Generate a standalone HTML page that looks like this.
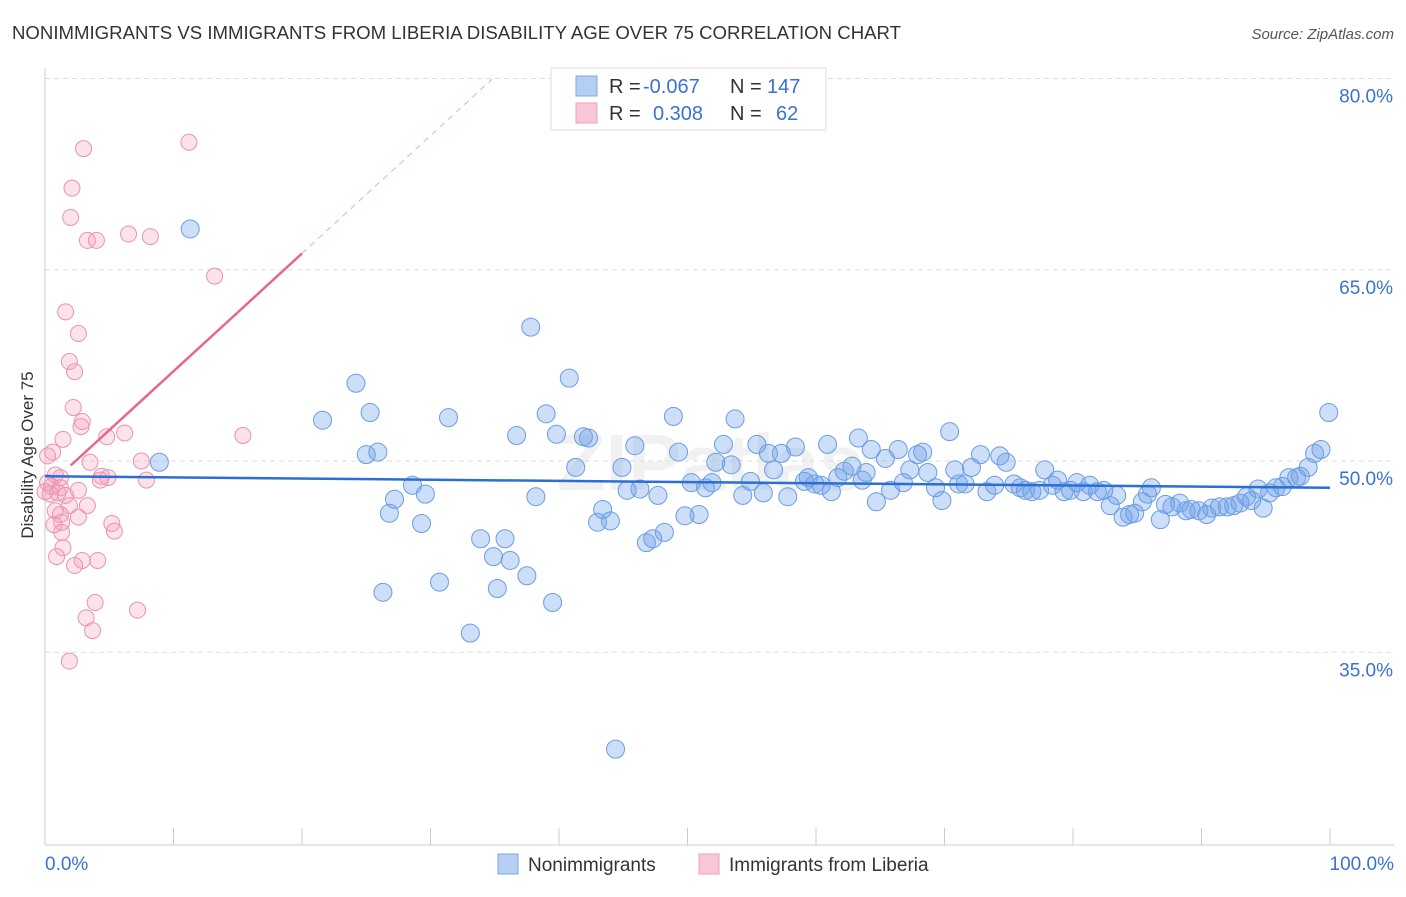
<!DOCTYPE html>
<html><head><meta charset="utf-8"><style>
body{margin:0;background:#fff;font-family:"Liberation Sans",sans-serif}
svg text{font-family:"Liberation Sans",sans-serif}
</style></head><body>
<svg id="chart" width="1406" height="892" xmlns="http://www.w3.org/2000/svg">
<text x="12" y="39" font-size="18" fill="#333" textLength="889" lengthAdjust="spacingAndGlyphs">NONIMMIGRANTS VS IMMIGRANTS FROM LIBERIA DISABILITY AGE OVER 75 CORRELATION CHART</text>
<text x="1394" y="39" font-size="15" fill="#555" font-style="italic" text-anchor="end">Source: ZipAtlas.com</text>
<text x="710" y="490" font-size="80" fill="#000" opacity="0.05" text-anchor="middle" font-weight="bold">ZIPatlas</text>
<text transform="translate(33,455) rotate(-90)" font-size="17" fill="#333" text-anchor="middle">Disability Age Over 75</text>
<g id="grid"></g><g id="pts"></g><g id="trend"></g>
<g>
<rect x="551" y="68" width="275" height="62" fill="#fff" stroke="#ddd"/>
<rect x="576" y="76" width="21" height="20" fill="#b5cff3" stroke="#7fa8e6"/>
<rect x="576" y="103" width="21" height="20" fill="#f9c6d6" stroke="#eea2bb"/>
<text x="609" y="93" font-size="20" fill="#333">R = </text><text x="643" y="93" font-size="20" fill="#3a72d0">-0.067</text>
<text x="730" y="93" font-size="20" fill="#333">N = </text><text x="767" y="93" font-size="20" fill="#3a72d0">147</text>
<text x="609" y="120" font-size="20" fill="#333">R = </text><text x="653" y="120" font-size="20" fill="#3a72d0">0.308</text>
<text x="730" y="120" font-size="20" fill="#333">N = </text><text x="776" y="120" font-size="20" fill="#3a72d0">62</text>
</g>
<g>
<rect x="498" y="854" width="20" height="20" fill="#b5cff3" stroke="#7fa8e6"/>
<text x="528" y="871" font-size="19" fill="#333">Nonimmigrants</text>
<rect x="699" y="854" width="20" height="20" fill="#f9c6d6" stroke="#eea2bb"/>
<text x="729" y="871" font-size="19" fill="#333">Immigrants from Liberia</text>
</g>
</svg>
<script>
const yTicks=[35,50,65,80];
const xTickLabels=["0.0%","100.0%"];
const blueX=[11.3,8.9,21.6,24.2,25.3,25.0,25.9,26.3,26.8,27.2,28.6,29.6,29.3,30.7,31.4,33.1,33.9,34.9,35.2,35.8,36.2,37.5,37.8,36.7,38.2,39.0,39.5,39.8,40.8,41.3,41.9,42.3,43.0,43.4,44.0,44.4,44.9,45.3,45.9,46.3,46.8,47.3,47.7,48.2,48.9,49.3,49.8,50.3,50.9,51.4,51.9,52.2,52.8,53.4,53.7,54.3,54.9,55.4,55.9,56.3,56.7,57.3,57.8,58.4,59.1,59.4,59.9,60.4,60.9,61.2,61.7,62.2,62.8,63.3,63.6,63.9,64.3,64.7,65.4,65.8,66.4,66.8,67.3,67.9,68.3,68.7,69.3,69.8,70.4,70.8,71.1,71.6,72.1,72.8,73.3,73.9,74.3,74.8,75.4,75.9,76.3,76.8,77.4,77.8,78.4,78.8,79.3,79.8,80.3,80.8,81.3,81.9,82.4,82.9,83.4,83.9,84.4,84.8,85.4,85.8,86.1,86.8,87.2,87.7,88.3,88.8,89.2,89.8,90.4,90.8,91.4,92.0,92.5,93.0,93.5,93.9,94.4,94.8,95.3,95.8,96.3,96.8,97.4,97.7,98.3,98.8,99.3,99.9];
const blueY=[68.2,49.9,53.2,56.1,53.8,50.5,50.7,39.7,45.9,47.0,48.1,47.4,45.1,40.5,53.4,36.5,43.9,42.5,40.0,43.9,42.2,41.0,60.5,52.0,47.2,53.7,38.9,52.1,56.5,49.5,51.9,51.8,45.2,46.2,45.3,27.4,49.5,47.7,51.2,47.8,43.6,43.9,47.3,44.4,53.5,50.7,45.7,48.3,45.8,47.9,48.3,49.9,51.3,49.7,53.3,47.3,48.4,51.3,47.5,50.6,49.3,50.6,47.2,51.1,48.4,48.7,48.2,48.1,51.3,47.6,48.7,49.2,49.6,51.8,48.5,49.1,50.9,46.8,50.2,47.7,50.9,48.3,49.3,50.5,50.7,49.1,47.9,46.9,52.3,49.3,48.2,48.2,49.5,50.5,47.6,48.1,50.4,49.9,48.2,47.9,47.7,47.6,47.7,49.3,48.1,48.5,47.6,47.7,48.3,47.6,48.1,47.6,47.7,46.5,47.3,45.6,45.8,45.9,46.8,47.4,47.9,45.4,46.6,46.4,46.7,46.1,46.2,46.1,45.8,46.3,46.4,46.4,46.5,46.7,47.2,46.9,47.8,46.3,47.5,47.9,48.0,48.7,48.7,48.8,49.5,50.6,50.9,53.8];
const pinkX=[3.0,11.2,2.1,2.0,3.3,4.0,6.5,8.2,13.2,1.6,2.6,1.9,2.3,2.2,2.9,2.8,1.4,6.2,4.8,15.4,0.6,0.2,3.5,7.5,0.8,1.2,4.4,4.9,0.2,0.5,1.2,0.0,0.4,1.0,1.6,2.6,4.3,7.9,1.9,3.3,0.8,1.2,2.6,1.3,0.7,5.2,5.4,1.3,1.4,0.9,2.9,4.1,2.3,3.9,7.2,3.2,3.7,1.9];
const pinkY=[74.5,75.0,71.4,69.1,67.3,67.3,67.8,67.6,64.5,61.7,60.0,57.8,57.0,54.2,53.1,52.7,51.7,52.2,51.9,52.0,50.7,50.4,49.9,50.0,48.9,48.7,48.8,48.7,48.3,48.0,47.9,47.6,47.4,47.5,47.3,47.7,48.5,48.5,46.5,46.5,46.1,45.8,45.6,45.2,45.0,45.1,44.5,44.4,43.2,42.5,42.2,42.2,41.8,38.9,38.3,37.7,36.7,34.3];
const blueTrend=[48.8,47.9];
const pinkIntercept=47.8, pinkSlope=0.924;
const NS="http://www.w3.org/2000/svg";
const X=v=>45+v*12.85, Y=v=>461-(v-50)*12.75;
function mk(tag,attrs,parent){const e=document.createElementNS(NS,tag);for(const k in attrs)e.setAttribute(k,attrs[k]);parent.appendChild(e);return e;}
const grid=document.getElementById('grid');
yTicks.forEach(t=>{
 const l=mk('line',{x1:45,x2:1394,y1:Y(t),y2:Y(t),stroke:'#ddd','stroke-dasharray':'5,4'},grid);
 
 
 const tx=mk('text',{x:1393,y:Y(t)+24,'font-size':19,fill:'#3a72d0','text-anchor':'end'},grid);
 tx.textContent=t.toFixed(1)+'%';
 
 
});
const ax=mk('line',{x1:45,x2:45,y1:68,y2:845,stroke:'#ccc'},grid);


const bx=mk('line',{x1:45,x2:1394,y1:845,y2:845,stroke:'#ccc'},grid);


for(let i=0;i<=10;i++){const t=mk('line',{x1:X(i*10),x2:X(i*10),y1:828,y2:845,stroke:'#ccc'},grid);
 
 }
const xl0=mk('text',{x:45,y:870,'font-size':19,fill:'#3a72d0'},grid);xl0.textContent=xTickLabels[0];


const xl1=mk('text',{x:1394,y:870,'font-size':19,fill:'#3a72d0','text-anchor':'end'},grid);xl1.textContent=xTickLabels[1];


const pts=document.getElementById('pts');
blueX.forEach((x,i)=>{const c=mk('circle',{cx:X(x),cy:Y(blueY[i]),r:9,fill:'rgba(110,160,235,0.35)',stroke:'#6b9de3','stroke-width':1},pts);
 
 });
pinkX.forEach((x,i)=>{const c=mk('circle',{cx:X(x),cy:Y(pinkY[i]),r:8,fill:'rgba(245,160,190,0.3)',stroke:'#ea93b0','stroke-width':1},pts);
 
 });
const tr=document.getElementById('trend');
const b=mk('line',{x1:X(0),y1:Y(blueTrend[0]),x2:X(100),y2:Y(blueTrend[1]),stroke:'#2b6fd6','stroke-width':2.5},tr);


const p=mk('line',{x1:X(2),y1:Y(pinkIntercept+pinkSlope*2),x2:X(20),y2:Y(pinkIntercept+pinkSlope*20),stroke:'#e8658f','stroke-width':2.5},tr);


const pd=mk('line',{x1:X(20),y1:Y(pinkIntercept+pinkSlope*20),x2:X(34.8),y2:Y(pinkIntercept+pinkSlope*34.8),stroke:'#eeaabd','stroke-width':1,'stroke-dasharray':'6,5'},tr);


</script>
</body></html>
